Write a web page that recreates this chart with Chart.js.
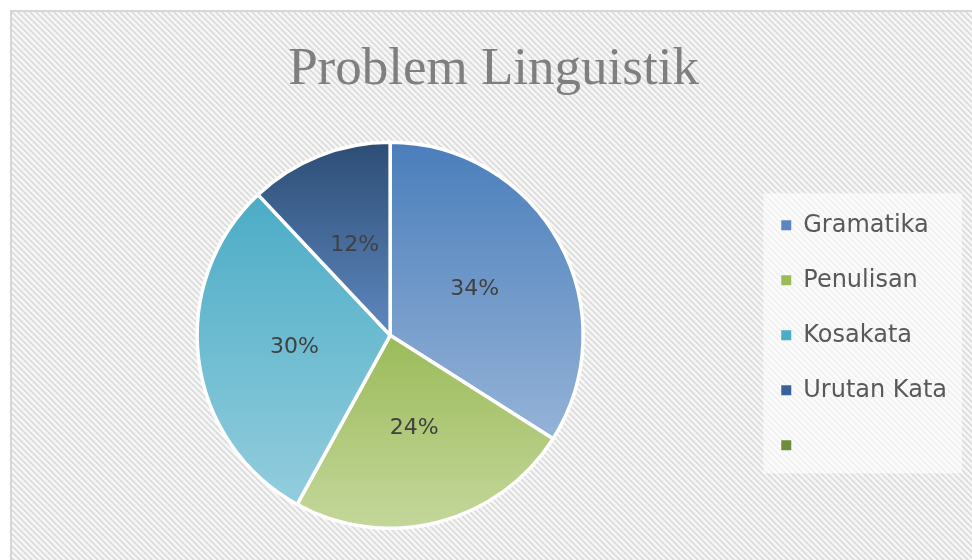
<!DOCTYPE html>
<html>
<head>
<meta charset="utf-8">
<script src="https://cdn.jsdelivr.net/npm/chart.js@4.4.1/dist/chart.umd.min.js"></script>
<style>
  html, body {
    margin: 0;
    padding: 0;
    width: 972px;
    height: 560px;
    overflow: hidden;
    background: #ffffff;
  }
  .frame {
    position: absolute;
    left: 10px;
    top: 10px;
    width: 970px;
    height: 560px;
    border-left: 2px solid #d6d6d6;
    border-top: 2px solid #d6d6d6;
    background: #f1f1f1;
  }
  canvas {
    position: absolute;
    left: 0;
    top: 0;
  }
</style>
</head>
<body>
<div class="frame">
  <canvas id="linguistikChart" width="960" height="548"></canvas>
</div>
<script>
const categories = ["Gramatika", "Penulisan", "Kosakata", "Urutan Kata", ""];
const shares = [34, 24, 30, 12, null];
const legendColors = ["#5B86C0", "#9BBB59", "#4BACC6", "#39629A", "#6F8D3B"];
// top / bottom colour of each slice's vertical gradient
const topColors = ["#4A7EBB", "#9BBB59", "#4BACC6", "#2C4D75", "#77933C"];
const bottomColors = ["#95B3D7", "#C4D79B", "#93CDDD", "#5F88C0", "#77933C"];

// diagonal hatch behind everything, plus the lighter panel behind the legend
const background = {
  id: "background",
  beforeDraw(chart) {
    const tile = document.createElement("canvas");
    tile.width = 6;
    tile.height = 6;
    const t = tile.getContext("2d");
    t.fillStyle = "#f9f9f9";
    t.fillRect(0, 0, 6, 6);
    t.strokeStyle = "#dedede";
    t.lineWidth = 2.2;
    [-6, 0, 6].forEach(function (dx) {
      t.beginPath();
      t.moveTo(dx - 1, -1);
      t.lineTo(dx + 7, 7);
      t.stroke();
    });
    const ctx = chart.ctx;
    ctx.save();
    ctx.fillStyle = ctx.createPattern(tile, "repeat");
    ctx.fillRect(0, 0, chart.width, chart.height);

    const boxes = chart.legend && chart.legend.legendHitBoxes;
    if (boxes && boxes.length) {
      const left = Math.min.apply(null, boxes.map((b) => b.left)) - 18;
      const top = Math.min.apply(null, boxes.map((b) => b.top)) - 20;
      const right = Math.max.apply(null, boxes.map((b) => b.left + b.width)) + 15;
      const bottom = Math.max.apply(null, boxes.map((b) => b.top + b.height)) + 16;
      ctx.fillStyle = "rgba(255, 255, 255, 0.6)";
      ctx.fillRect(left, top, right - left, bottom - top);
    }
    ctx.restore();
  },
};

// gives every slice its own top-to-bottom gradient, like the Office style
const sliceGradients = {
  id: "sliceGradients",
  beforeDatasetsDraw(chart) {
    const ctx = chart.ctx;
    const meta = chart.getDatasetMeta(0);
    meta.data.forEach(function (arc, i) {
      const r = arc.outerRadius;
      let ys = [arc.y, arc.y + r * Math.sin(arc.startAngle), arc.y + r * Math.sin(arc.endAngle)];
      [-Math.PI / 2, Math.PI / 2, (3 * Math.PI) / 2].forEach(function (a) {
        if (a >= arc.startAngle && a <= arc.endAngle) {
          ys.push(arc.y + r * Math.sin(a));
        }
      });
      const y0 = Math.min.apply(null, ys);
      const y1 = Math.max.apply(null, ys);
      const grad = ctx.createLinearGradient(0, y0, 0, Math.max(y1, y0 + 1));
      grad.addColorStop(0, topColors[i]);
      grad.addColorStop(1, bottomColors[i]);
      arc.options.backgroundColor = grad;
    });
  },
};

// percentage labels in the middle of each slice
const sliceLabels = {
  id: "sliceLabels",
  afterDatasetsDraw(chart) {
    const ctx = chart.ctx;
    const values = chart.data.datasets[0].data;
    const total = values.reduce(function (s, v) {
      return s + (v || 0);
    }, 0);
    ctx.save();
    ctx.font = "22px 'DejaVu Sans'";
    ctx.fillStyle = "#404040";
    ctx.textAlign = "center";
    ctx.textBaseline = "middle";
    chart.getDatasetMeta(0).data.forEach(function (arc, i) {
      if (!values[i]) return;
      const p = arc.getCenterPoint();
      ctx.fillText(Math.round((values[i] / total) * 100) + "%", p.x, p.y);
    });
    ctx.restore();
  },
};

document.addEventListener("DOMContentLoaded", function () {
  const ctx = document.getElementById("linguistikChart");

  new Chart(ctx, {
    type: "pie",
    data: {
      labels: categories,
      datasets: [
        {
          data: shares,
          backgroundColor: legendColors,
          borderColor: "#ffffff",
          borderWidth: 3.5,
        },
      ],
    },
    options: {
      responsive: false,
      animation: false,
      radius: 193,
      layout: {
        padding: { left: 18, right: 15, top: 0, bottom: 4 },
      },
      plugins: {
        title: {
          display: true,
          text: "Problem Linguistik",
          color: "#7f7f7f",
          font: {
            family: "'Liberation Serif'",
            size: 53,
            weight: "normal",
          },
          padding: { top: 26, bottom: 13 },
        },
        legend: {
          position: "right",
          fullSize: false,
          labels: {
            boxWidth: 10,
            boxHeight: 10,
            padding: 31,
            color: "#595959",
            font: {
              family: "'DejaVu Sans'",
              size: 24,
            },
            generateLabels: function (chart) {
              // plain squares, without the white slice border
              const items = Chart.overrides.pie.plugins.legend.labels.generateLabels(chart);
              items.forEach(function (item) {
                item.lineWidth = 0;
              });
              return items;
            },
          },
        },
        tooltip: {
          enabled: false,
        },
      },
    },
    plugins: [background, sliceGradients, sliceLabels],
  });
});
</script>
</body>
</html>
